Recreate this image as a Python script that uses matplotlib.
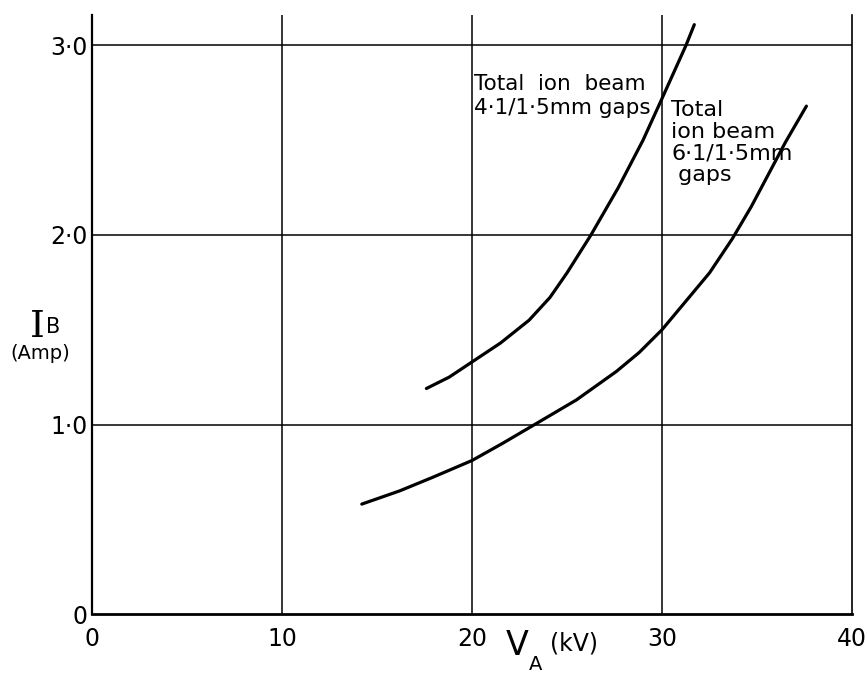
import numpy as np
import matplotlib
matplotlib.use("Agg")
import matplotlib.pyplot as plt

# values (V_A in kV, I_B in A)
va_41 = [17.6, 18.8, 20.0, 21.5, 23.0, 24.1, 25.0, 26.26, 27.7, 29.0, 30.0, 31.26, 31.7]
ib_41 = [1.19, 1.25, 1.33, 1.43, 1.55, 1.67, 1.80, 2.00, 2.25, 2.50, 2.72, 3.00, 3.11]

va_61 = [14.2, 16.2, 17.9, 20.0, 21.6, 23.3, 25.5, 27.6, 28.8, 30.0, 31.0,
         32.5, 33.7, 34.7, 35.6, 36.5, 37.6]
ib_61 = [0.58, 0.65, 0.72, 0.81, 0.90, 1.00, 1.13, 1.28, 1.38, 1.50, 1.62,
         1.80, 1.98, 2.15, 2.32, 2.49, 2.68]

x_ticks = [0, 10, 20, 30, 40]
y_ticks = [0, 1, 2, 3]
x_labels = ["0", "10", "20", "30", "40"]
y_labels = ["0", "1·0", "2·0", "3·0"]

plt.rcParams["font.family"] = ["DejaVu Sans"]

fig = plt.figure(figsize=(8.67, 6.74), dpi=100)
ax = fig.add_axes([0.1061, 0.089, 0.8766, 0.8885])

ax.plot(va_41, ib_41, color="black", lw=2.3, solid_capstyle="round")
ax.plot(va_61, ib_61, color="black", lw=2.3, solid_capstyle="round")

ax.set_xlim(0, 40)
ax.set_ylim(0, 3.16)
ax.set_xticks(x_ticks)
ax.set_xticklabels(x_labels, fontsize=17)
ax.set_yticks(y_ticks)
ax.set_yticklabels(y_labels, fontsize=17)
ax.tick_params(length=0)
ax.tick_params(axis="x", pad=9)
ax.tick_params(axis="y", pad=3)

for x in x_ticks[1:-1]:
    ax.axvline(x, color="black", lw=1.1)
for y in y_ticks[1:]:
    ax.axhline(y, color="black", lw=1.1)

ax.spines["top"].set_visible(False)
ax.spines["left"].set_linewidth(1.6)
ax.spines["bottom"].set_linewidth(2.0)
ax.spines["right"].set_linewidth(1.2)

ax.text(20.1, 2.85, "Total  ion  beam\n4·1/1·5mm gaps", fontsize=15.5,
        va="top", ha="left", linespacing=1.25)
ax.text(30.5, 2.71, "Total\nion beam\n6·1/1·5mm\n gaps", fontsize=16,
        va="top", ha="left", linespacing=1.1)

# y-axis label
fig.text(0.043, 0.50, "I", fontsize=27, family="DejaVu Serif",
         ha="center", va="baseline")
fig.text(0.061, 0.506, "B", fontsize=15, ha="center", va="baseline")
fig.text(0.047, 0.489, "(Amp)", fontsize=14, ha="center", va="top")

# x-axis label
fig.text(0.583, 0.028, "V", fontsize=24, ha="left", va="baseline")
fig.text(0.610, 0.006, "A", fontsize=14, ha="left", va="baseline")
fig.text(0.634, 0.035, "(kV)", fontsize=17, ha="left", va="baseline")

fig.savefig("out.png", dpi=100)
